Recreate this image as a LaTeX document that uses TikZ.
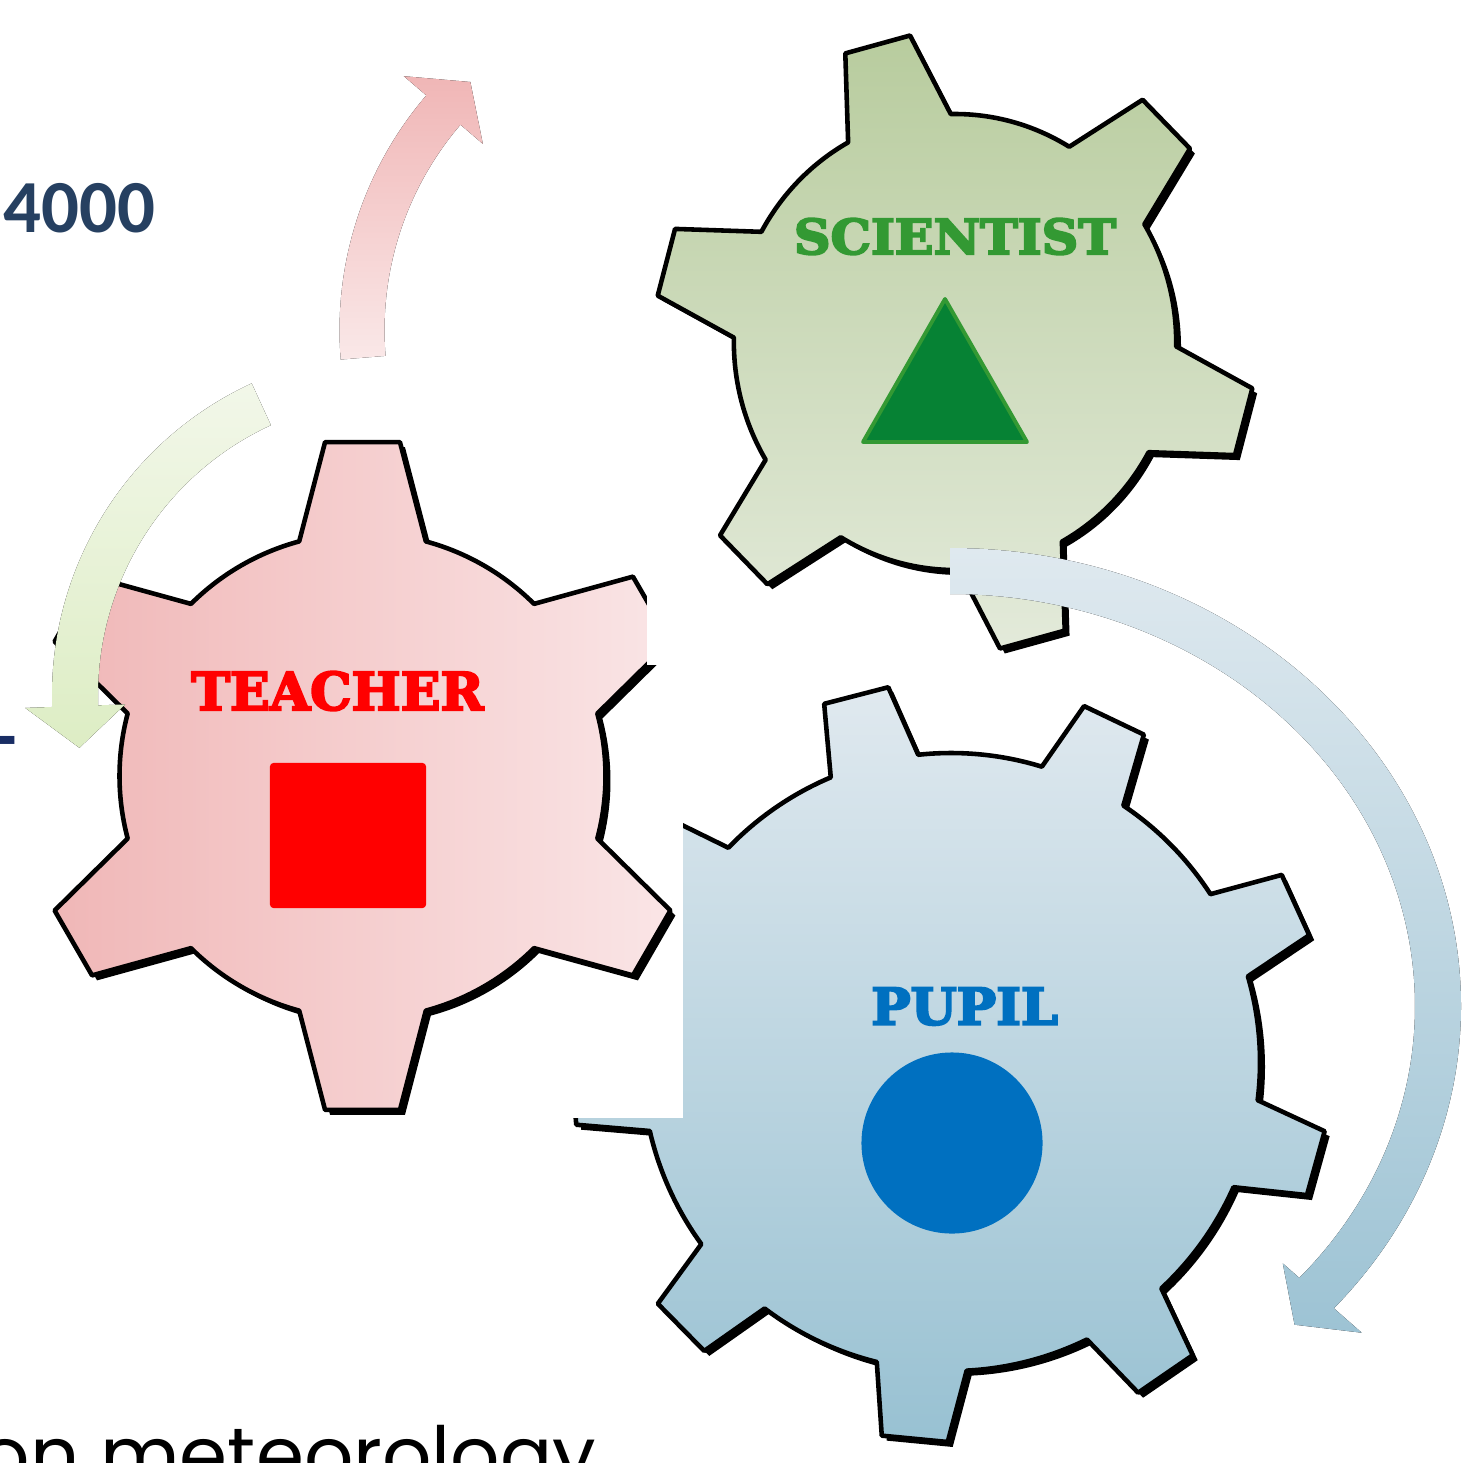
\documentclass[tikz,border=0pt]{standalone}
\usepackage{fontspec}
\setmainfont{Carlito}
\newfontfamily\slabfont[BoldFeatures={FakeBold=4}]{DejaVu Serif}
\newfontfamily\geofont{Poppins}

\definecolor{teachL}{RGB}{240,183,183}
\definecolor{teachR}{RGB}{250,229,230}
\definecolor{sciT}{RGB}{184,204,158}
\definecolor{sciB}{RGB}{227,234,218}
\definecolor{pupT}{RGB}{224,233,239}
\definecolor{pupB}{RGB}{152,193,210}
\definecolor{navy}{RGB}{38,64,97}
\definecolor{dashnavy}{RGB}{25,45,100}
\definecolor{sciGreen}{RGB}{51,153,51}
\definecolor{triFill}{RGB}{6,130,52}
\definecolor{pupBlue}{RGB}{0,112,192}
\definecolor{pinkT}{RGB}{240,182,182}
\definecolor{pinkB}{RGB}{250,232,232}
\definecolor{greenT}{RGB}{242,247,233}
\definecolor{greenB}{RGB}{221,237,196}
\definecolor{blueT}{RGB}{223,233,239}
\definecolor{blueB}{RGB}{157,195,212}

% gear outline: teeth, first angle, body r, tip r, base half angle, tip half angle
\newcommand{\gear}[6]{%
  ({#2-#5}:#3)
  \foreach \cog in {1,...,#1}{
    -- ({#2+(\cog-1)*360/#1-#6}:#4) -- ({#2+(\cog-1)*360/#1+#6}:#4)
    -- ({#2+(\cog-1)*360/#1+#5}:#3)
    arc[start angle={#2+(\cog-1)*360/#1+#5}, delta angle={360/#1-2*#5}, radius=#3]
  } -- cycle}

% bent arrow: mid r, half width, start, head base, tip, head half width
\newcommand{\ringarrow}[6]{%
  (#3:{#1+#2}) arc[start angle=#3, end angle=#4, radius={#1+#2}]
  -- (#4:{#1+#6}) -- (#5:#1) -- (#4:{#1-#6})
  -- (#4:{#1-#2}) arc[start angle=#4, end angle=#3, radius={#1-#2}] -- cycle}

\begin{document}
\begin{tikzpicture}[x=0.01cm, y=0.01cm,
    gearline/.style={draw=black, line width=1.3pt, line join=round},
    shadow/.style={fill=black, shift={(5,-5)}},
    lbl/.style={font=\slabfont\bfseries, inner sep=0pt}]
\useasboundingbox (0,0) rectangle (1467,1462);

% pupil
\begin{scope}[shift={(951,400)}]
  \fill[shadow] \gear{9}{24.5}{309}{380}{8.4}{5};
  \path[gearline, top color=pupT, bottom color=pupB] \gear{9}{24.5}{309}{380}{8.4}{5};
\end{scope}
\fill[white] (450,344) rectangle (683,700);

% teacher
\begin{scope}[shift={(362.5,686)}]
  \fill[shadow] \gear{6}{90}{243}{336}{15.1}{6.4};
  \path[gearline, left color=teachL, right color=teachR] \gear{6}{90}{243}{336}{15.1}{6.4};
\end{scope}
\node[lbl, text=red, font=\slabfont\bfseries\fontsize{14.8}{18}\selectfont] (teachtxt) at (337.5,771) {TEACHER};
\node[fill=red, minimum width=1.56cm, minimum height=1.45cm, rounded corners=1pt, inner sep=0pt] (teachsq) at (348,626.5) {};
\fill[white] (647,797) rectangle (700,900);

% scientist
\begin{scope}[shift={(955,1120)}, xscale=0.97]
  \fill[shadow] \gear{6}{105}{228}{310}{13.9}{6.4};
  \path[gearline, top color=sciT, bottom color=sciB] \gear{6}{105}{228}{310}{13.9}{6.4};
\end{scope}
\node[lbl, text=sciGreen, font=\slabfont\bfseries\fontsize{13.7}{17}\selectfont] (scitxt) at (955,1225.5) {\scalebox{1.055}[1]{SCIENTIST}};
\filldraw[draw=sciGreen, fill=triFill, line width=1.1pt, line join=round] (945,1163) -- (1027,1020) -- (863,1020) -- cycle;

\node[lbl, text=pupBlue, font=\slabfont\bfseries\fontsize{14.4}{18}\selectfont] (puptxt) at (964.5,455.5) {\scalebox{1.04}[1]{PUPIL}};
\node[circle, fill=pupBlue, minimum size=1.81cm, inner sep=0pt] (pupdot) at (952,319) {};

% arrows
\fill[shift={(700,1132)}, top color=pinkT, bottom color=pinkB] \ringarrow{338}{22.5}{184.7}{139.4}{132.8}{52};
\fill[shift={(395,767)}, top color=greenT, bottom color=greenB] \ringarrow{320}{23}{114.7}{182}{189.5}{50};
\fill[shift={(950,456)}, top color=blueT, bottom color=blueB]
  (90:511 and 458) arc[start angle=90, end angle=-41.3, x radius=511, y radius=458]
  -- (-41.3:548 and 495) -- (-46:496 and 443) -- (-41.3:443 and 390)
  -- (-41.3:465 and 412) arc[start angle=-41.3, end angle=90, x radius=465, y radius=412] -- cycle;

% page text
\node[font=\bfseries\fontsize{21.3}{26}\selectfont, text=navy, anchor=base west, inner sep=0pt] (num) at (3,1230) {4000};
\node[font=\bfseries\fontsize{22}{26}\selectfont, text=dashnavy, anchor=base east, inner sep=0pt] (dash) at (18,700) {-};
\node[font=\geofont\fontsize{22}{26}\selectfont, anchor=base east, inner sep=0pt] (foot) at (597,-20) {eon meteorology};
\end{tikzpicture}
\end{document}
